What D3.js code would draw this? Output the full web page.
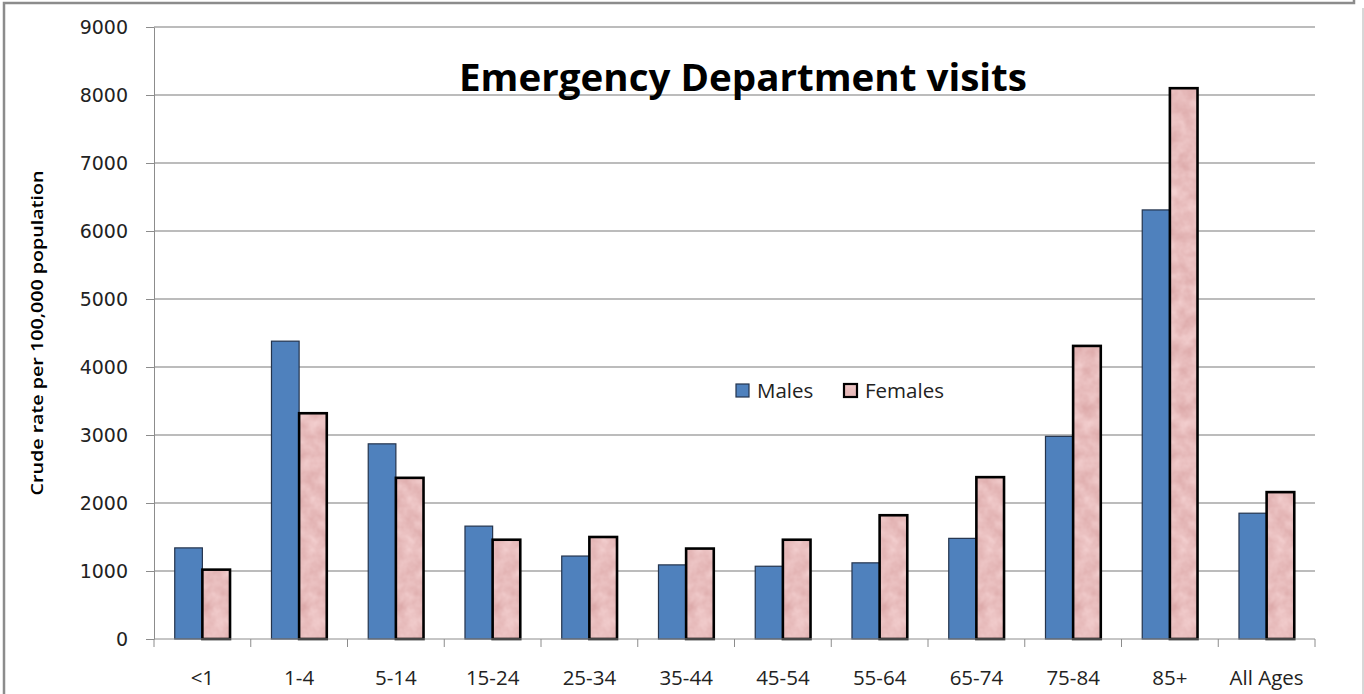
<!DOCTYPE html>
<html>
<head>
<meta charset="utf-8">
<title>Emergency Department visits</title>
<script src="https://cdn.jsdelivr.net/npm/d3@7"></script>
<style>
  html, body { margin: 0; padding: 0; background: #fff; }
  svg { display: block; }
</style>
</head>
<body>
<svg id="chart" width="1364" height="694"></svg>
<script>
// data
var categories = ['<1','1-4','5-14','15-24','25-34','35-44','45-54','55-64','65-74','75-84','85+','All Ages'];
var males   = [1340, 4380, 2870, 1660, 1220, 1090, 1070, 1120, 1480, 2980, 6310, 1850];
var females = [1020, 3320, 2370, 1460, 1500, 1330, 1460, 1820, 2380, 4310, 8100, 2160];
var seriesNames = ['Males', 'Females'];
var yTicks = [0, 1000, 2000, 3000, 4000, 5000, 6000, 7000, 8000, 9000];

// plot box (window.top is reserved, so prefixed names)
var plotLeft = 154, plotRight = 1315, plotTop = 27, plotBottom = 639;

var svg = d3.select('#chart');

// marbled pink fill for the Females bars
var defs = svg.append('defs');
var marble = defs.append('filter')
  .attr('id', 'marble')
  .attr('color-interpolation-filters', 'sRGB')
  .attr('x', 0).attr('y', 0).attr('width', 1).attr('height', 1);
marble.append('feTurbulence')
  .attr('type', 'fractalNoise')
  .attr('baseFrequency', '0.07')
  .attr('numOctaves', 3)
  .attr('seed', 7)
  .attr('result', 'noise');
marble.append('feColorMatrix')
  .attr('in', 'noise')
  .attr('type', 'matrix')
  .attr('values', '0.12 0 0 0 0.85  0.2 0 0 0 0.64  0.2 0 0 0 0.64  0 0 0 0 1')
  .attr('result', 'pink');
marble.append('feComposite')
  .attr('in', 'pink')
  .attr('in2', 'SourceGraphic')
  .attr('operator', 'in');

// outer frame
var frame = svg.append('g').attr('fill', 'none');
frame.append('path')
  .attr('d', 'M4,694 L4,3 L1354,3 L1354,0')
  .attr('stroke', '#8c8c8c').attr('stroke-width', 2.5);
frame.append('line')
  .attr('x1', 1363).attr('x2', 1363).attr('y1', 8).attr('y2', 694)
  .attr('stroke', '#b0b0b0').attr('stroke-width', 1);

var x = d3.scaleBand()
  .domain(categories)
  .range([plotLeft, plotRight])
  .padding(0);

var xs = d3.scaleBand()
  .domain(seriesNames)
  .range([0, x.bandwidth()])
  .paddingInner(0)
  .paddingOuter(0.75);

var y = d3.scaleLinear()
  .domain([0, 9000])
  .range([plotBottom, plotTop]);

// gridlines
svg.append('g')
  .selectAll('line')
  .data(yTicks.filter(function(d){ return d > 0; }))
  .enter()
  .append('line')
  .attr('x1', plotLeft).attr('x2', plotRight)
  .attr('y1', function(d){ return y(d); })
  .attr('y2', function(d){ return y(d); })
  .attr('stroke', '#a6a6a6')
  .attr('stroke-width', 1.3);

// y axis
var yAxis = svg.append('g')
  .attr('transform', 'translate(' + plotLeft + ',0)')
  .call(d3.axisLeft(y).tickValues(yTicks).tickFormat(d3.format('d')).tickSize(8).tickPadding(18).tickSizeOuter(0));
yAxis.select('.domain').attr('stroke', '#8c8c8c');
yAxis.selectAll('.tick line').attr('stroke', '#8c8c8c');
yAxis.selectAll('.tick text')
  .attr('fill', '#222')
  .style('font-family', 'DejaVu Sans, Verdana, sans-serif')
  .style('font-size', '19px');

// bars
var groups = svg.append('g')
  .selectAll('.group')
  .data(categories)
  .enter()
  .append('g')
  .attr('class', 'group')
  .attr('transform', function(d){ return 'translate(' + x(d) + ',0)'; });

groups.append('rect')
  .attr('class', 'male')
  .attr('x', xs('Males'))
  .attr('width', xs.bandwidth())
  .attr('y', function(d, i){ return y(males[i]); })
  .attr('height', function(d, i){ return y(0) - y(males[i]); })
  .attr('fill', '#4f81bd')
  .attr('stroke', '#24344d')
  .attr('stroke-width', 1.2);

groups.append('rect')
  .attr('class', 'female')
  .attr('x', xs('Females'))
  .attr('width', xs.bandwidth())
  .attr('y', function(d, i){ return y(females[i]); })
  .attr('height', function(d, i){ return y(0) - y(females[i]); })
  .attr('fill', '#000')
  .attr('filter', 'url(#marble)');

groups.append('rect')
  .attr('x', xs('Females'))
  .attr('width', xs.bandwidth())
  .attr('y', function(d, i){ return y(females[i]); })
  .attr('height', function(d, i){ return y(0) - y(females[i]); })
  .attr('fill', 'none')
  .attr('stroke', '#000')
  .attr('stroke-width', 2.6);

// x axis: ticks sit between categories
var xAxis = svg.append('g');
xAxis.append('line')
  .attr('x1', plotLeft).attr('x2', plotRight)
  .attr('y1', plotBottom).attr('y2', plotBottom)
  .attr('stroke', '#8c8c8c');
xAxis.selectAll('.xtick')
  .data(categories.concat(['end']))
  .enter()
  .append('line')
  .attr('class', 'xtick')
  .attr('x1', function(d){ return d === 'end' ? plotRight : x(d); })
  .attr('x2', function(d){ return d === 'end' ? plotRight : x(d); })
  .attr('y1', plotBottom).attr('y2', plotBottom + 8)
  .attr('stroke', '#8c8c8c');
xAxis.selectAll('.xlabel')
  .data(categories)
  .enter()
  .append('text')
  .attr('class', 'xlabel')
  .attr('x', function(d){ return x(d) + x.bandwidth() / 2; })
  .attr('y', 685)
  .attr('text-anchor', 'middle')
  .attr('fill', '#222')
  .style('font-family', 'Open Sans, sans-serif')
  .style('font-size', '20.5px')
  .text(function(d){ return d; });

// y axis title
svg.append('text')
  .attr('transform', 'translate(43,333) rotate(-90)')
  .attr('text-anchor', 'middle')
  .attr('textLength', 325)
  .attr('lengthAdjust', 'spacingAndGlyphs')
  .attr('fill', '#000')
  .style('font-family', 'Open Sans, sans-serif')
  .style('font-weight', 600)
  .style('font-size', '17px')
  .text('Crude rate per 100,000 population');

// chart title
svg.append('text')
  .attr('x', 743)
  .attr('y', 91)
  .attr('text-anchor', 'middle')
  .attr('textLength', 568)
  .attr('lengthAdjust', 'spacingAndGlyphs')
  .attr('fill', '#000')
  .style('font-family', 'Open Sans, sans-serif')
  .style('font-weight', 700)
  .style('font-size', '37px')
  .text('Emergency Department visits');

// legend
var legend = svg.append('g');
var legendX = [736, 844];
var legendItem = legend.selectAll('.item')
  .data(seriesNames)
  .enter()
  .append('g')
  .attr('class', 'item')
  .attr('transform', function(d, i){ return 'translate(' + legendX[i] + ',384)'; });

legendItem.append('rect')
  .attr('width', 13).attr('height', 13)
  .attr('fill', function(d){ return d === 'Males' ? '#4f81bd' : '#000'; })
  .attr('filter', function(d){ return d === 'Males' ? null : 'url(#marble)'; });
legendItem.append('rect')
  .attr('width', 13).attr('height', 13)
  .attr('fill', 'none')
  .attr('stroke', function(d){ return d === 'Males' ? '#24344d' : '#000'; })
  .attr('stroke-width', function(d){ return d === 'Males' ? 1.2 : 2.2; });
legendItem.append('text')
  .attr('x', 21)
  .attr('y', 14)
  .attr('fill', '#222')
  .style('font-family', 'Open Sans, sans-serif')
  .style('font-size', '20.5px')
  .text(function(d){ return d; });
</script>
</body>
</html>
